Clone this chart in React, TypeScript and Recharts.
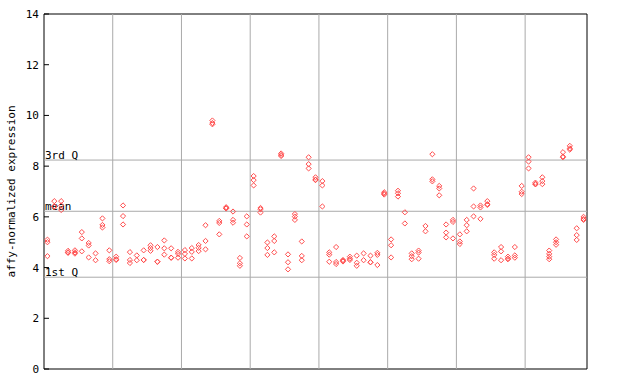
import React from 'react';
import { ScatterChart, Scatter, XAxis, YAxis, ReferenceLine, ReferenceArea } from 'recharts';

// one entry per sample (left to right), replicate values
const expression: number[][] = [
  [5.1, 5.0, 4.45],
  [6.62, 6.42, 6.4],
  [6.62, 6.45, 6.27],
  [4.66, 4.58, 4.6],
  [4.68, 4.6, 4.55],
  [5.4, 5.15, 4.64],
  [4.97, 4.87, 4.4],
  [4.56, 4.29],
  [5.94, 5.68, 5.58],
  [4.68, 4.33, 4.25],
  [4.43, 4.33, 4.3],
  [6.45, 6.03, 5.7],
  [4.61, 4.3, 4.18],
  [4.48, 4.29],
  [4.68, 4.3, 4.3],
  [4.88, 4.77, 4.66],
  [4.81, 4.23, 4.23],
  [5.07, 4.76, 4.51],
  [4.76, 4.39, 4.39],
  [4.62, 4.54, 4.39],
  [4.69, 4.54, 4.36],
  [4.77, 4.62, 4.36],
  [4.89, 4.78, 4.65],
  [5.67, 5.05, 4.72],
  [9.8, 9.7, 9.65],
  [5.84, 5.76, 5.31],
  [6.38, 6.35, 6.33],
  [6.21, 5.88, 5.77],
  [4.38, 4.17, 4.07],
  [6.02, 5.7, 5.23],
  [7.61, 7.45, 7.24],
  [6.35, 6.3, 6.17],
  [4.99, 4.77, 4.5],
  [5.23, 5.05, 4.6],
  [8.5, 8.44, 8.4],
  [4.52, 4.21, 3.93],
  [6.11, 6.01, 5.88],
  [5.03, 4.46, 4.29],
  [8.35, 8.08, 7.91],
  [7.56, 7.47, 7.45],
  [7.41, 7.24, 6.41],
  [4.6, 4.51, 4.23],
  [4.81, 4.22, 4.14],
  [4.3, 4.27, 4.24],
  [4.43, 4.35, 4.3],
  [4.47, 4.19, 4.07],
  [4.56, 4.29],
  [4.47, 4.21, 4.21],
  [4.58, 4.5, 4.1],
  [6.97, 6.92, 6.88],
  [5.11, 4.88, 4.4],
  [7.03, 6.93, 6.8],
  [6.18, 5.74],
  [4.56, 4.45, 4.33],
  [4.67, 4.59, 4.35],
  [5.64, 5.43],
  [8.47, 7.48, 7.4],
  [7.22, 7.12, 6.85],
  [5.7, 5.38, 5.19],
  [5.88, 5.8, 5.15],
  [5.31, 5.03, 4.93],
  [5.88, 5.67, 5.43],
  [7.12, 6.41, 6.02],
  [6.45, 6.37, 5.92],
  [6.62, 6.5, 6.47],
  [4.6, 4.5, 4.35],
  [4.81, 4.64, 4.29],
  [4.43, 4.35, 4.33],
  [4.81, 4.48, 4.39],
  [7.22, 6.99, 6.9],
  [8.35, 8.18, 7.91],
  [7.35, 7.3, 7.28],
  [7.56, 7.41, 7.29],
  [4.67, 4.54, 4.43, 4.33],
  [5.11, 5.0, 4.9],
  [8.55, 8.38, 8.35],
  [8.8, 8.7, 8.65],
  [5.55, 5.28, 5.09],
  [6.0, 5.92, 5.88],
];

const yTicks = [0, 2, 4, 6, 8, 10, 12, 14];
const groupBreaks = [10, 20, 30, 40, 50, 60, 70];
const statLabels = ['3rd Q', 'mean', '1st Q'];
const statValues = [8.24, 6.22, 3.62];

const points = expression.flatMap((vals, i) => vals.map((v) => ({ sample: i + 0.5, value: v })));

const FONT = '"DejaVu Sans Mono", monospace';
const RED = '#ff4d4d';

const Diamond = (props: any) => {
  const { cx, cy } = props;
  if (cx == null || cy == null) return null;
  const r = 2.6;
  return (
    <polygon
      points={`${cx},${cy - r} ${cx + r},${cy} ${cx},${cy + r} ${cx - r},${cy}`}
      fill="none"
      stroke={RED}
      strokeWidth={1}
    />
  );
};

const LeftTick = (props: any) => {
  const { x, y, payload } = props;
  return (
    <g>
      <text x={x} y={y} dy={4} textAnchor="end" fontFamily={FONT} fontSize={11} fill="#000">
        {payload.value}
      </text>
      <line x1={x + 5} x2={x + 10} y1={y} y2={y} stroke="#000" />
    </g>
  );
};

const RightTick = (props: any) => {
  const { x, y } = props;
  return <line x1={x - 10} x2={x - 5} y1={y} y2={y} stroke="#000" />;
};

const StatLabel = (text: string) => (props: any) => {
  const { viewBox } = props;
  return (
    <text x={viewBox.x + 1} y={viewBox.y - 1} fontFamily={FONT} fontSize={11} fill="#000">
      {text}
    </text>
  );
};

const AxisTitle = () => (
  <text
    x={15}
    y={191.5}
    transform="rotate(-90, 15, 191.5)"
    textAnchor="middle"
    fontFamily={FONT}
    fontSize={11}
    fill="#000"
  >
    affy-normalized expression
  </text>
);

export default function App() {
  return (
    <div style={{ position: 'absolute', left: 0, top: 0, background: '#fff' }}>
      <ScatterChart width={640} height={384} margin={{ top: 14, right: 53, bottom: 15, left: 0 }}>
        <XAxis type="number" dataKey="sample" domain={[0, 79]} hide />
        <YAxis
          yAxisId="l"
          type="number"
          dataKey="value"
          domain={[0, 14]}
          ticks={yTicks}
          width={44}
          axisLine={false}
          tickLine={false}
          tickSize={5}
          tickMargin={0}
          tick={<LeftTick />}
          label={<AxisTitle />}
        />
        <YAxis
          yAxisId="r"
          orientation="right"
          type="number"
          domain={[0, 14]}
          ticks={yTicks}
          width={0}
          axisLine={false}
          tickLine={false}
          tickSize={5}
          tickMargin={0}
          tick={<RightTick />}
        />
        {groupBreaks.map((g) => (
          <ReferenceLine key={g} x={g} yAxisId="l" stroke="#aaaaaa" strokeWidth={1} />
        ))}
        {statValues.map((v, i) => (
          <ReferenceLine
            key={statLabels[i]}
            y={v}
            yAxisId="l"
            stroke="#aaaaaa"
            strokeWidth={1}
            label={StatLabel(statLabels[i])}
          />
        ))}
        <Scatter yAxisId="l" data={points} shape={<Diamond />} isAnimationActive={false} />
        <ReferenceArea x1={0} x2={79} y1={0} y2={14} yAxisId="l" fill="none" stroke="#000" strokeWidth={1} />
      </ScatterChart>
    </div>
  );
}
